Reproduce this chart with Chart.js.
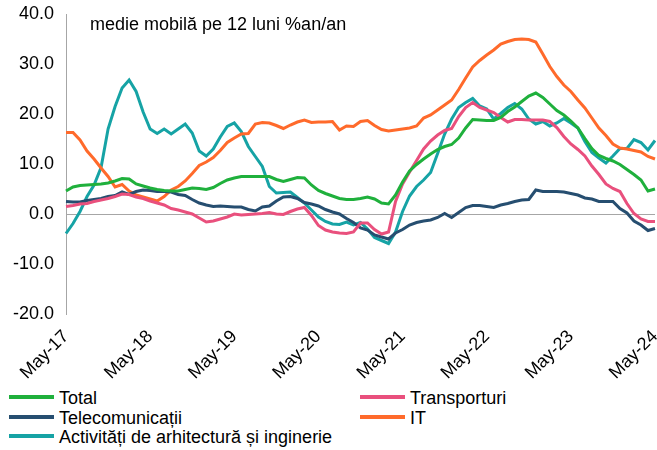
<!DOCTYPE html>
<html>
<head>
<meta charset="utf-8">
<script src="https://cdn.jsdelivr.net/npm/chart.js@4.4.1/dist/chart.umd.min.js"></script>
<style>
    body { margin: 0; background: #fff; font-family: "Liberation Sans", Arial, sans-serif; }
    #wrap { position: relative; width: 657px; height: 450px; }
    #chartBox { position: absolute; left: 0; top: 0; width: 657px; height: 380px; }
    #subtitle { position: absolute; left: 90px; top: 14px; font-size: 18px; color: #000; }
    .leg { position: absolute; font-size: 18px; color: #000; line-height: 20px; white-space: nowrap; }
    .leg span { display: inline-block; width: 45px; height: 4px; margin-right: 5px; vertical-align: middle; position: relative; top: -2px; }
</style>
</head>
<body>
<div id="wrap">
    <div id="chartBox"><canvas id="lineChart"></canvas></div>
    <div id="subtitle">medie mobilă pe 12 luni %an/an</div>
    <div id="legend"></div>
</div>
<script>
// Years shown on the axis (monthly data, May-17 .. May-24)
const years = ['17', '18', '19', '20', '21', '22', '23', '24'];
const monthNames = ['May', 'Jun', 'Jul', 'Aug', 'Sep', 'Oct', 'Nov', 'Dec', 'Jan', 'Feb', 'Mar', 'Apr'];

// Series values, % y/y, 12-month moving average
const total = [
    4.6, 5.4, 5.7, 5.8, 5.9, 6.0, 6.2, 6.6, 7.1, 7.0, 6.0, 5.6,
    5.2, 4.9, 4.7, 4.6, 4.6, 4.9, 5.2, 5.1, 4.9, 5.3, 6.1, 6.8,
    7.2, 7.5, 7.5, 7.5, 7.5, 7.5, 6.9, 6.5, 6.9, 7.3, 7.2, 5.8,
    4.7, 4.1, 3.6, 3.1, 2.9, 2.9, 3.1, 3.4, 3.0, 2.2, 2.0, 3.8,
    6.4, 8.6, 9.9, 11.0, 12.0, 12.9, 13.5, 13.9, 15.2, 17.2, 18.9, 18.8,
    18.7, 18.7, 19.3, 20.5, 21.4, 22.5, 23.6, 24.2, 23.3, 22.0, 20.7, 19.8,
    18.6, 17.2, 15.1, 13.1, 11.7, 11.1, 10.6, 9.9, 8.9, 7.9, 6.8, 4.6,
    5.0
];
const transport = [
    1.5, 1.7, 2.0, 2.1, 2.5, 2.8, 3.1, 3.5, 4.0, 3.9, 3.4, 3.1,
    2.6, 2.2, 1.8, 1.1, 0.8, 0.4, 0.0, -0.8, -1.6, -1.4, -1.0, -0.6,
    0.0, -0.2, -0.1, 0.0, 0.1, 0.3, 0.0, -0.1, 0.5, 1.0, 1.3, -0.3,
    -2.3, -3.2, -3.6, -3.8, -3.9, -3.6, -1.8, -1.8, -3.1, -4.0, -3.6, 2.5,
    6.0, 8.4, 10.7, 13.0, 14.6, 15.8, 16.7, 17.1, 19.5, 21.3, 22.3, 21.3,
    20.8, 20.3, 19.3, 18.4, 18.9, 18.9, 18.8, 18.8, 18.8, 18.5, 17.3, 15.5,
    14.0, 12.9, 11.6, 9.6, 7.9, 6.0, 5.1, 4.5, 2.1, 0.1, -1.0, -1.5,
    -1.5
];
const telecom = [
    2.5, 2.4, 2.4, 2.7, 2.9, 3.1, 3.5, 3.7, 4.4, 3.9, 4.5, 4.8,
    4.7, 4.5, 4.5, 4.4, 3.9, 3.7, 2.9, 2.2, 1.8, 1.5, 1.6, 1.5,
    1.4, 1.4, 0.9, 0.6, 1.4, 1.6, 2.6, 3.4, 3.5, 3.1, 2.3, 2.0,
    1.6, 0.9, 0.4, 0.0, -0.9, -1.7, -2.8, -3.2, -4.2, -4.6, -5.0, -3.8,
    -3.1, -2.2, -1.7, -1.4, -1.2, -0.7, 0.1, -0.7, 0.3, 1.3, 1.7, 1.7,
    1.5, 1.3, 1.8, 2.1, 2.5, 2.8, 2.9, 4.8, 4.5, 4.5, 4.5, 4.4,
    4.1, 3.8, 3.2, 3.0, 2.5, 2.5, 2.5, 1.1, 0.2, -1.4, -2.2, -3.3,
    -2.9
];
const it = [
    16.3, 16.3, 14.8, 12.6, 11.0, 9.2, 7.5, 5.4, 5.9, 4.6, 3.8, 3.4,
    3.0, 2.6, 3.5, 4.8, 5.5, 6.6, 8.1, 9.7, 10.4, 11.3, 12.7, 14.3,
    15.2, 16.0, 16.1, 18.0, 18.3, 18.2, 17.7, 17.1, 17.8, 18.4, 18.8, 18.3,
    18.4, 18.4, 18.5, 16.8, 17.6, 17.5, 18.5, 18.7, 17.7, 16.9, 16.6, 16.8,
    17.0, 17.2, 17.6, 19.2, 19.8, 20.8, 21.8, 22.8, 24.9, 27.2, 29.4, 30.7,
    31.8, 32.8, 34.0, 34.5, 34.9, 35.0, 34.9, 34.4, 32.0, 29.5, 27.5, 25.8,
    24.5, 22.8, 21.2, 19.2, 17.2, 15.7, 14.0, 13.2, 13.0, 12.7, 12.4, 11.5,
    11.0
];
const arhitectura = [
    -3.9, -1.9, 0.5, 3.5, 5.8, 9.3, 17.0, 21.5, 25.2, 26.8, 24.5, 20.4,
    17.0, 16.1, 17.0, 16.0, 17.0, 18.0, 16.2, 12.6, 11.6, 13.0, 15.4, 17.5,
    18.2, 16.5, 13.5, 11.5, 9.5, 5.5, 4.2, 4.3, 4.4, 3.3, 2.2, 0.8,
    -0.6, -1.5, -2.0, -2.1, -1.6, -2.2, -1.7, -3.0, -4.7, -5.3, -5.9, -3.6,
    0.5, 3.6, 5.5, 6.8, 8.3, 12.1, 16.0, 19.0, 21.3, 22.3, 23.1, 21.6,
    21.0, 19.0, 20.1, 21.3, 22.1, 21.0, 19.0, 18.0, 18.5, 17.6, 18.2, 19.1,
    18.2, 17.2, 14.5, 12.3, 11.2, 10.2, 11.6, 13.1, 13.1, 14.9, 14.3, 12.8,
    14.7
];

// Series names, colors and legend positions
const seriesList = [
    { name: 'Total', data: total, color: '#1fb03c', legendX: 9, legendY: 388 },
    { name: 'Transporturi', data: transport, color: '#e9507d', legendX: 360, legendY: 388 },
    { name: 'Telecomunicații', data: telecom, color: '#264e70', legendX: 9, legendY: 408 },
    { name: 'IT', data: it, color: '#ff6a2b', legendX: 360, legendY: 408 },
    { name: 'Activități de arhitectură și inginerie', data: arhitectura, color: '#16a3a5', legendX: 9, legendY: 427 }
];

// Build month labels like "May-17", "Jun-17", ...
function buildLabels() {
    const labels = [];
    for (let y = 0; y < years.length; y++) {
        for (let m = 0; m < 12; m++) {
            const yr = m < 8 ? years[y] : String(Number(years[y]) + 1);
            labels.push(monthNames[m] + '-' + yr);
            if (y === years.length - 1) return labels;
        }
    }
    return labels;
}

// Legend under the chart
function drawLegend() {
    const box = document.getElementById('legend');
    box.innerHTML = seriesList.map(s => `
        <div class="leg" style="left:${s.legendX}px; top:${s.legendY}px">
            <span style="background:${s.color}"></span>${s.name}
        </div>
    `).join('');
}

function drawChart() {
    const labels = buildLabels();
    const ctx = document.getElementById('lineChart').getContext('2d');
    new Chart(ctx, {
        type: 'line',
        data: {
            labels: labels,
            datasets: seriesList.map(s => ({
                label: s.name,
                data: s.data,
                borderColor: s.color,
                backgroundColor: s.color,
                borderWidth: 3,
                pointRadius: 0,
                tension: 0
            }))
        },
        options: {
            responsive: true,
            maintainAspectRatio: false,
            animation: false,
            layout: { padding: { top: 14, right: 2, left: 0, bottom: 0 } },
            plugins: {
                legend: { display: false },
                tooltip: { enabled: false }
            },
            scales: {
                x: {
                    // fixed height so the plot ends at y=314, no extra side padding
                    afterFit: function (scale) {
                        scale.height = 66;
                        scale.paddingLeft = 0;
                        scale.paddingRight = 0;
                    },
                    grid: { display: false },
                    border: { display: false },
                    ticks: {
                        autoSkip: false,
                        maxRotation: 45,
                        minRotation: 45,
                        padding: 4,
                        color: '#000',
                        font: { family: '"Liberation Sans", Arial, sans-serif', size: 18 },
                        callback: function (value, index) {
                            return index % 12 === 0 ? labels[index] : null;
                        }
                    }
                },
                y: {
                    min: -20,
                    max: 40,
                    afterFit: function (scale) {
                        scale.width = 66;
                        scale.paddingTop = 0;
                        scale.paddingBottom = 0;
                    },
                    grid: {
                        drawTicks: false,
                        color: c => c.tick.value === 0 ? '#a6a6a6' : 'rgba(0,0,0,0)',
                        lineWidth: 1
                    },
                    border: { display: true, color: '#a6a6a6', width: 1 },
                    ticks: {
                        stepSize: 10,
                        padding: 12,
                        color: '#000',
                        font: { family: '"Liberation Sans", Arial, sans-serif', size: 18 },
                        callback: v => v.toFixed(1)
                    }
                }
            }
        }
    });
}

drawLegend();
drawChart();
</script>
</body>
</html>
